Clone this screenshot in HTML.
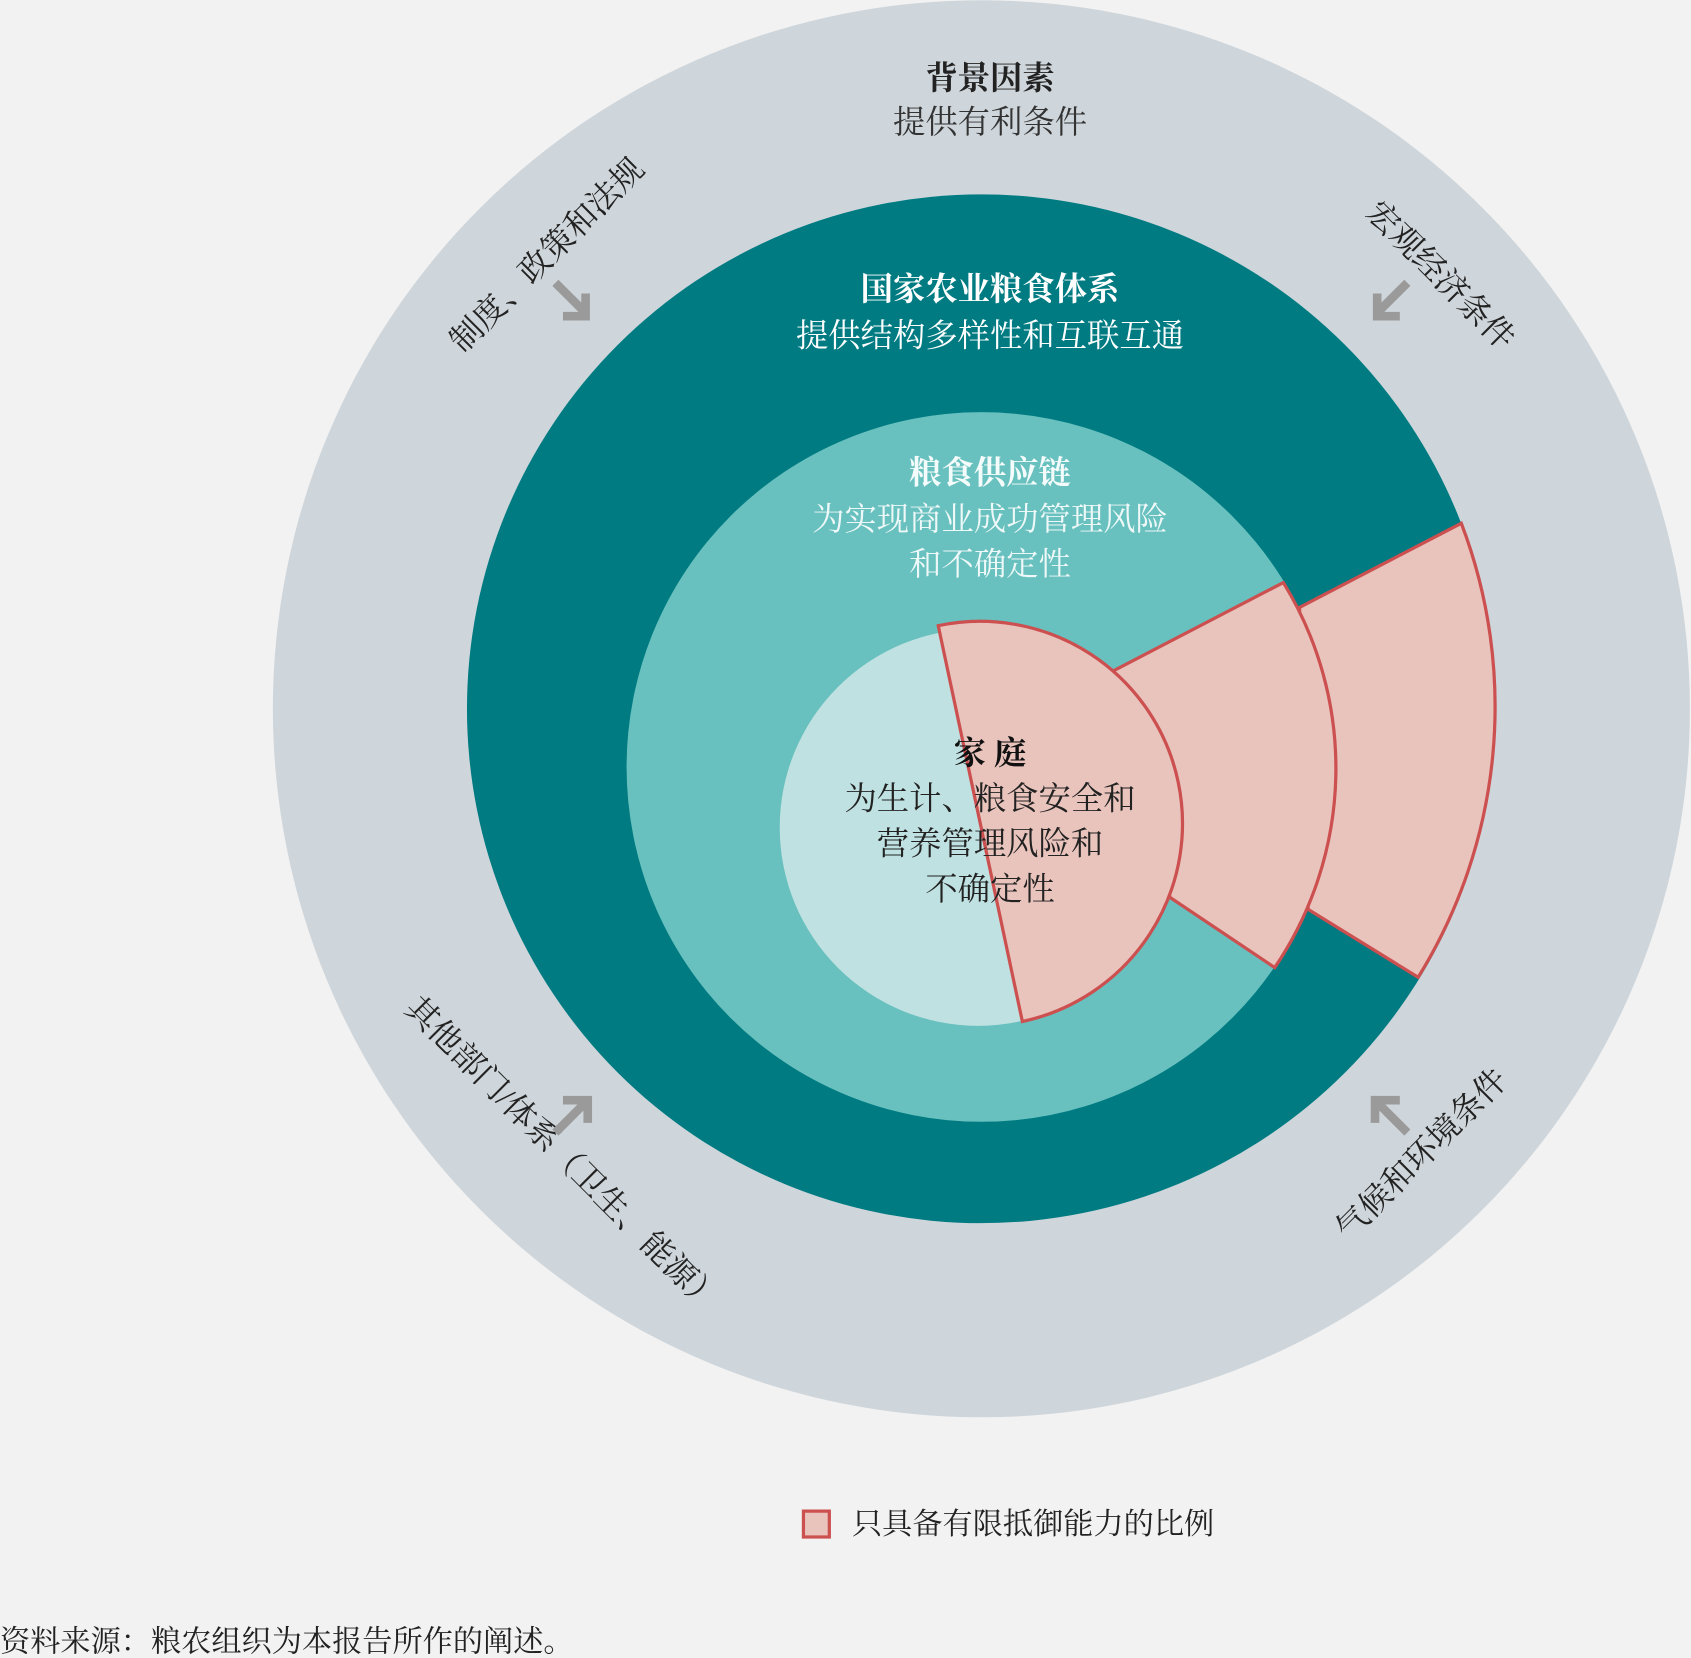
<!DOCTYPE html>
<html><head><meta charset="utf-8"><style>
html,body{margin:0;padding:0;background:#f2f2f2;}
svg{display:block}
text{font-family:"Liberation Serif","Noto Serif CJK SC","Noto Sans CJK SC",serif;}
</style></head><body>
<svg width="1691" height="1658" viewBox="0 0 1568 1537" xmlns="http://www.w3.org/2000/svg">
<rect width="1568" height="1537" fill="#f2f2f2"/>
<circle cx="910" cy="657" r="657" fill="#cfd6db"/>
<circle cx="910" cy="657" r="477" fill="#007b82"/>
<circle cx="910" cy="711" r="329" fill="#68c1be"/>
<circle cx="907" cy="767" r="184" fill="#c0e1e1"/>
<g fill="#e9c4bc" stroke="#cc5050" stroke-width="3" stroke-linejoin="miter">
<path d="M1205,563 L1355,485 A477,477 0 0 1 1315,906 L1213,843 Z"/>
<path d="M1032,622 L1190,540 A329,329 0 0 1 1182,897 L1085,832 Z"/>
<path d="M870,580 A186,186 0 0 1 948,947 Z"/>
</g>
<g text-anchor="middle" dominant-baseline="central" font-size="30">
<text x="918" y="72" font-weight="bold" font-family="Liberation Sans,Noto Sans CJK SC,sans-serif" fill="#222">背景因素</text>
<text x="918" y="113" fill="#333">提供有利条件</text>
<text x="918" y="268" font-weight="bold" font-family="Liberation Sans,Noto Sans CJK SC,sans-serif" fill="#fff">国家农业粮食体系</text>
<text x="918" y="311" fill="#fff">提供结构多样性和互联互通</text>
<text x="918" y="438" font-weight="bold" font-family="Liberation Sans,Noto Sans CJK SC,sans-serif" fill="#f4fbfb">粮食供应链</text>
<text x="918" y="481" fill="#eef8f8">为实现商业成功管理风险</text>
<text x="918" y="523" fill="#eef8f8">和不确定性</text>
<text x="918" y="698" font-weight="bold" font-family="Liberation Sans,Noto Sans CJK SC,sans-serif" fill="#111">家  庭</text>
<text x="918" y="740" fill="#222">为生计、粮食安全和</text>
<text x="918" y="782" fill="#222">营养管理风险和</text>
<text x="918" y="824" fill="#222">不确定性</text>
<text transform="translate(507,236) rotate(-45)" fill="#222" font-size="30">制度、政策和法规</text>
<text transform="translate(1336,255) rotate(45)" fill="#222" font-size="30">宏观经济条件</text>
<text transform="translate(522,1070) rotate(45)" fill="#222" font-size="30">其他部门/体系（卫生、能源）</text>
<text transform="translate(1318,1070) rotate(-45)" fill="#222" font-size="30">气候和环境条件</text>
</g>
<g stroke="#9a9a9a" stroke-width="8" fill="none" stroke-linejoin="miter" stroke-linecap="butt">
<path d="M515,262 L543,290 M543,272 L543,293 L522,293"/>
<path d="M1305,262 L1277,290 M1277,272 L1277,293 L1298,293"/>
<path d="M515,1050 L543,1022 M522,1020 L545,1020 L545,1041"/>
<path d="M1305,1050 L1277,1022 M1298,1020 L1275,1020 L1275,1041"/>
</g>
<rect x="745" y="1401" width="24" height="24" fill="#e9c4bc" stroke="#cc5050" stroke-width="3"/>
<text x="790" y="1413" font-size="28" dominant-baseline="central" fill="#222">只具备有限抵御能力的比例</text>
<text x="0" y="1522" font-size="28" dominant-baseline="central" fill="#222">资料来源：粮农组织为本报告所作的阐述。</text>
</svg>
</body></html>
